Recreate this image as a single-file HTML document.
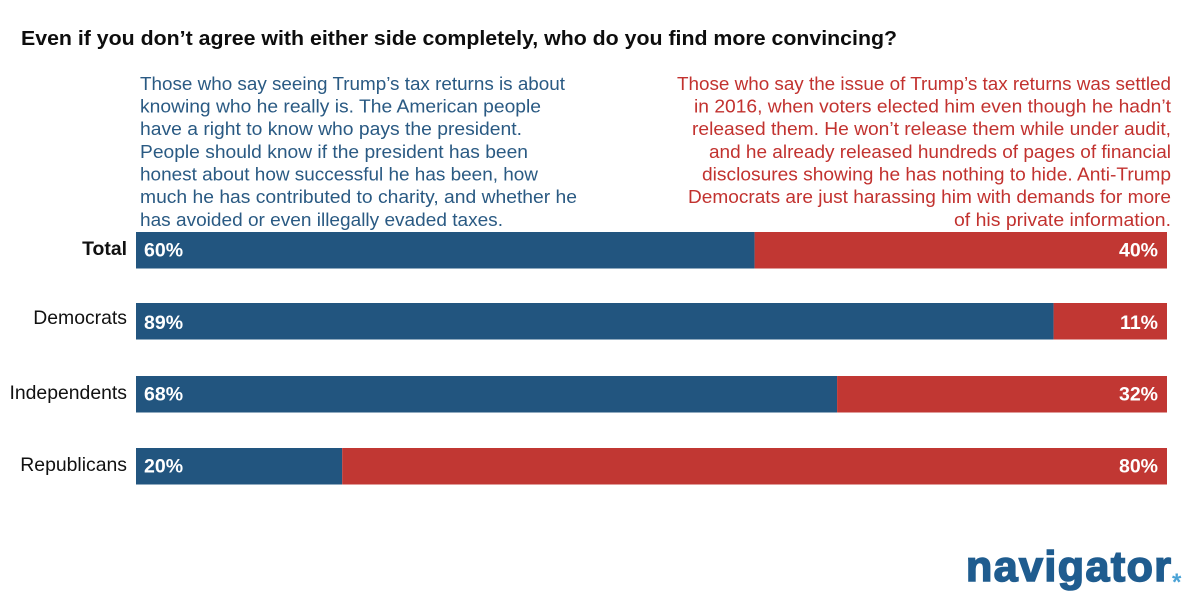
<!DOCTYPE html>
<html lang="en">
<head>
<meta charset="utf-8">
<title>Navigator poll chart</title>
<style>
  html, body { margin: 0; padding: 0; background: #fff; }
  svg { display: block; font-family: "Liberation Sans", sans-serif; }
  .blue-text { fill: #2a5a83; font-size: 18px; }
  .red-text { fill: #c2322f; font-size: 18px; text-anchor: end; }
</style>
</head>
<body>
<svg id="chart" width="1200" height="604" viewBox="0 0 1200 604" xmlns="http://www.w3.org/2000/svg">
  <rect x="0" y="0" width="1200" height="604" fill="#ffffff"/>
  <text x="21" y="45" font-size="20" font-weight="700" fill="#0d0d0d" textLength="876" lengthAdjust="spacingAndGlyphs">Even if you don’t agree with either side completely, who do you find more convincing?</text>

  <g class="blue-text">
    <text x="140" y="90" textLength="425" lengthAdjust="spacingAndGlyphs">Those who say seeing Trump’s tax returns is about</text>
    <text x="140" y="112.5" textLength="401" lengthAdjust="spacingAndGlyphs">knowing who he really is. The American people</text>
    <text x="140" y="135" textLength="382" lengthAdjust="spacingAndGlyphs">have a right to know who pays the president.</text>
    <text x="140" y="158" textLength="388" lengthAdjust="spacingAndGlyphs">People should know if the president has been</text>
    <text x="140" y="180.5" textLength="398" lengthAdjust="spacingAndGlyphs">honest about how successful he has been, how</text>
    <text x="140" y="203" textLength="437" lengthAdjust="spacingAndGlyphs">much he has contributed to charity, and whether he</text>
    <text x="140" y="226" textLength="363" lengthAdjust="spacingAndGlyphs">has avoided or even illegally evaded taxes.</text>
  </g>

  <g class="red-text">
    <text x="1171" y="90" textLength="494" lengthAdjust="spacingAndGlyphs">Those who say the issue of Trump’s tax returns was settled</text>
    <text x="1171" y="112.5" textLength="477" lengthAdjust="spacingAndGlyphs">in 2016, when voters elected him even though he hadn’t</text>
    <text x="1171" y="135" textLength="479" lengthAdjust="spacingAndGlyphs">released them. He won’t release them while under audit,</text>
    <text x="1171" y="158" textLength="462" lengthAdjust="spacingAndGlyphs">and he already released hundreds of pages of financial</text>
    <text x="1171" y="180.5" textLength="469" lengthAdjust="spacingAndGlyphs">disclosures showing he has nothing to hide. Anti-Trump</text>
    <text x="1171" y="203" textLength="483" lengthAdjust="spacingAndGlyphs">Democrats are just harassing him with demands for more</text>
    <text x="1171" y="226" textLength="217" lengthAdjust="spacingAndGlyphs">of his private information.</text>
  </g>

  <g id="bars"></g>

  <g>
    <text x="966" y="581" font-size="43" font-weight="700" fill="#1f5c8f" stroke="#1f5c8f" stroke-width="1.6" textLength="205" lengthAdjust="spacing">navigator</text>
    <text x="1172" y="590" font-size="24" font-weight="700" fill="#4ba3d6">*</text>
  </g>
</svg>
<script>
const categories = ["Total", "Democrats", "Independents", "Republicans"];
const convincedByRelease = [60, 89, 68, 20];
const convincedBySettled = [40, 11, 32, 80];

const svgNS = "http://www.w3.org/2000/svg";
const barsGroup = document.getElementById("bars");

function xScale(percent) {
  return 136 + percent * 10.31;
}
function rowTop(index) {
  return 232 + index * 72 - (index === 1 ? 1 : 0);
}
function labelBaseline(index) {
  return rowTop(index) + (index === 1 ? 21 : 22.8);
}
function valueBaseline(index) {
  return rowTop(index) + (index === 1 ? 26 : 24.5);
}
function addRect(x, y, width, height, fill) {
  const el = document.createElementNS(svgNS, "rect");
  el.setAttribute("x", x);
  el.setAttribute("y", y);
  el.setAttribute("width", width);
  el.setAttribute("height", height);
  el.setAttribute("fill", fill);
  barsGroup.appendChild(el);
  return el;
}
function addText(content, x, y, size, weight, fill, anchor) {
  const el = document.createElementNS(svgNS, "text");
  el.textContent = content;
  el.setAttribute("x", x);
  el.setAttribute("y", y);
  el.setAttribute("font-size", size);
  el.setAttribute("font-weight", weight);
  el.setAttribute("fill", fill);
  el.setAttribute("text-anchor", anchor);
  barsGroup.appendChild(el);
  return el;
}

categories.forEach(function (category, i) {
  const slug = category.toLowerCase();
  const top = rowTop(i);
  const left = convincedByRelease[i];
  const right = convincedBySettled[i];

  const blueBar = addRect(xScale(0), top, xScale(left) - xScale(0), 36.5, "#22557f");
  
  

  const redBar = addRect(xScale(left), top, xScale(left + right) - xScale(left), 36.5, "#c13733");
  
  

  const rowLabel = addText(category, 127, labelBaseline(i), 19.4, i === 0 ? 700 : 400, "#111111", "end");
  
  

  const leftValue = addText(left + "%", 144, valueBaseline(i), 19.5, 700, "#ffffff", "start");
  
  

  const rightValue = addText(right + "%", 1158, valueBaseline(i), 19.5, 700, "#ffffff", "end");
  
  
});
</script>
</body>
</html>
